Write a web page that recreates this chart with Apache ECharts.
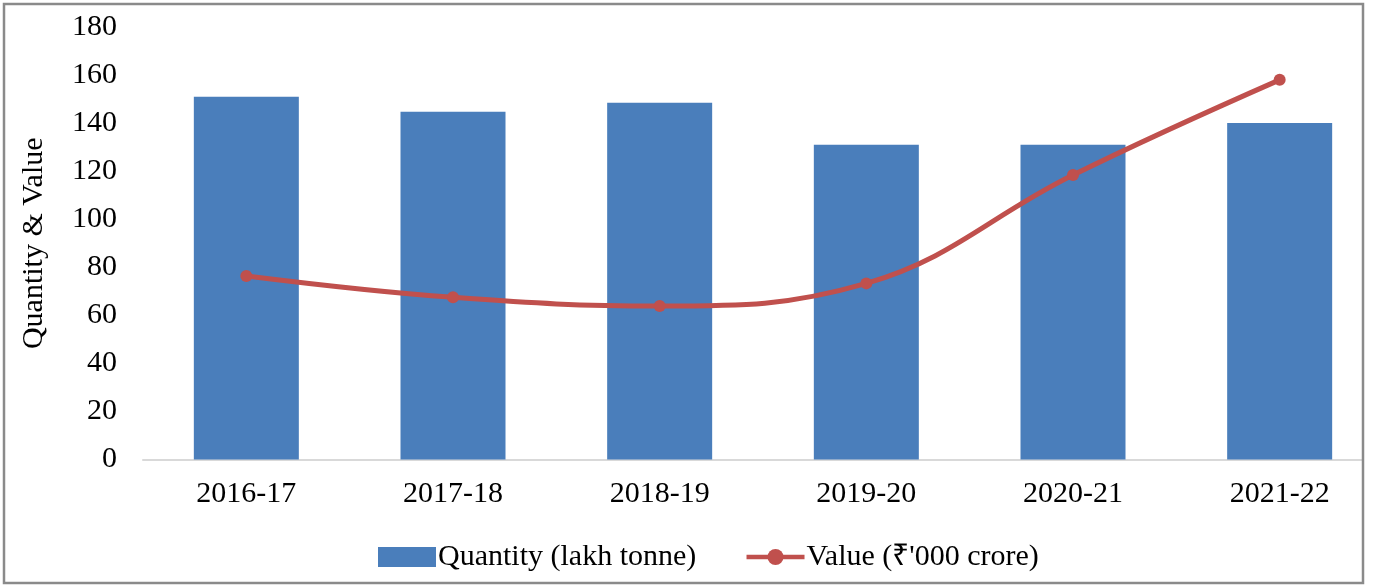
<!DOCTYPE html>
<html>
<head>
<meta charset="utf-8">
<script src="https://cdn.jsdelivr.net/npm/echarts@6/dist/echarts.min.js"></script>
<style>
    html, body { margin: 0; padding: 0; background: #fff; }
    .chart { width: 1377px; height: 585px; }
</style>
</head>
<body>
<div class="chart"></div>
<script>
// data
var years = ['2016-17', '2017-18', '2018-19', '2019-20', '2020-21', '2021-22'];
var quantity = [151, 144.7, 148.5, 131, 131, 140];
var value = [76.4, 67.5, 63.9, 73.3, 118.4, 158];
var yTicks = { min: 0, max: 180, step: 20 };

var box = document.getElementsByClassName('chart')[0];
var chart = echarts.init(box);
var font = 'Liberation Serif, Times New Roman, serif';

var option = {
    animation: false,
    textStyle: { fontFamily: font },
    grid: {
        left: 143,
        top: 27,
        width: 1240,
        height: 432.5,
        outerBoundsMode: 'none',
        containLabel: false
    },
    legend: {
        left: 373,
        top: 537,
        itemWidth: 58,
        itemHeight: 20,
        itemGap: 48,
        textStyle: { fontFamily: font, fontSize: 30, color: '#000', padding: [0, 0, 0, -3] },
        data: [
            { name: 'Quantity (lakh tonne)', icon: 'rect' },
            { name: 'Value (₹\'000 crore)', lineStyle: { width: 4.5 }, itemStyle: { borderWidth: 0 } }
        ]
    },
    xAxis: {
        type: 'category',
        data: years,
        axisLine: { lineStyle: { color: '#d9d9d9', width: 2 } },
        axisTick: { show: false },
        axisLabel: { fontFamily: font, fontSize: 30, color: '#000', margin: 20 }
    },
    yAxis: {
        type: 'value',
        min: yTicks.min,
        max: yTicks.max,
        interval: yTicks.step,
        name: 'Quantity & Value',
        nameLocation: 'middle',
        nameGap: 94,
        nameTextStyle: { fontFamily: font, fontSize: 30, color: '#000' },
        splitLine: { show: false },
        axisLine: { show: false },
        axisTick: { show: false },
        axisLabel: { fontFamily: font, fontSize: 30, color: '#000', margin: 26 }
    },
    series: [
        {
            name: 'Quantity (lakh tonne)',
            type: 'bar',
            data: quantity,
            barWidth: 105,
            itemStyle: { color: '#4a7ebb' }
        },
        {
            name: 'Value (₹\'000 crore)',
            type: 'line',
            data: value,
            smooth: 0.4,
            symbol: 'circle',
            symbolSize: 12,
            itemStyle: { color: '#c0504d' },
            lineStyle: { color: '#c0504d', width: 5 }
        }
    ],
    graphic: [
        {
            type: 'rect',
            z: 100,
            shape: { x: 1364, y: 0, width: 20, height: 585 },
            style: { fill: '#fff' }
        },
        {
            type: 'rect',
            z: 101,
            shape: { x: 4, y: 4, width: 1359, height: 579 },
            style: { fill: 'none', stroke: '#8a8a8a', lineWidth: 2.5 }
        }
    ]
};
chart.setOption(option);
</script>
</body>
</html>
